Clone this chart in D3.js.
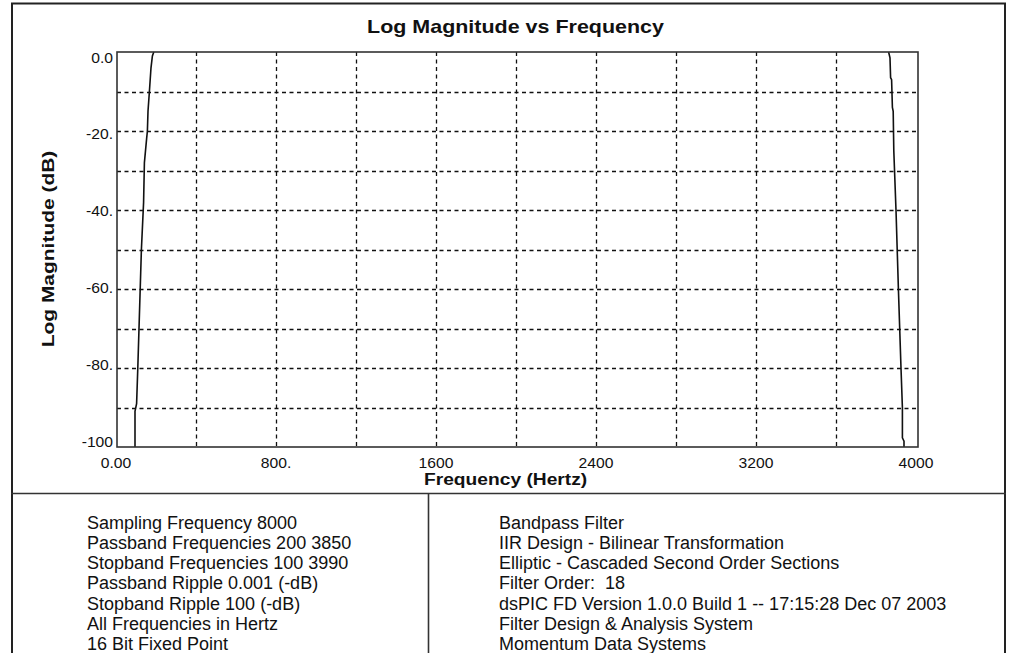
<!DOCTYPE html>
<html>
<head>
<meta charset="utf-8">
<script src="https://cdn.jsdelivr.net/npm/d3@7"></script>
<style>
  html, body { margin: 0; padding: 0; background: #fff; }
  svg { display: block; font-family: "Liberation Sans", Arial, sans-serif; }
  text { white-space: pre; }
</style>
</head>
<body>
<svg id="chart" width="1016" height="653"></svg>
<script>
// ---- data ----
const titleText = "Log Magnitude vs Frequency";
const xLabelText = "Frequency (Hertz)";
const yLabelText = "Log Magnitude (dB)";
const xTicks = [0, 800, 1600, 2400, 3200, 4000];
const xTickLabels = ["0.00", "800.", "1600", "2400", "3200", "4000"];
const yTicks = [0, -20, -40, -60, -80, -100];
const yTickLabels = ["0.0", "-20.", "-40.", "-60.", "-80.", "-100"];
const xGrid = [400, 800, 1200, 1600, 2000, 2400, 2800, 3200, 3600];
const yGrid = [-10, -20, -30, -40, -50, -60, -70, -80, -90];
// lower transition edge (Hz, dB)
const lowFreq = [184, 177, 170, 162, 155, 152, 148, 137, 133, 122, 110, 104, 98, 90, 90];
const lowDb   = [0, -1, -4, -10, -15, -20, -22, -28, -38, -50, -70, -80, -89, -91, -100];
// upper transition edge (Hz, dB)
const highFreq = [3858, 3865, 3868, 3873, 3877, 3881, 3884, 3895, 3907, 3920, 3927, 3927, 3935, 3935];
const highDb   = [0, -1.5, -6.5, -7, -14, -15, -25, -40, -60, -80, -90, -97.7, -98.5, -100];
const infoLeft = [
  "Sampling Frequency 8000",
  "Passband Frequencies 200 3850",
  "Stopband Frequencies 100 3990",
  "Passband Ripple 0.001 (-dB)",
  "Stopband Ripple 100 (-dB)",
  "All Frequencies in Hertz",
  "16 Bit Fixed Point"
];
const infoRight = [
  "Bandpass Filter",
  "IIR Design - Bilinear Transformation",
  "Elliptic - Cascaded Second Order Sections",
  "Filter Order:  18",
  "dsPIC FD Version 1.0.0 Build 1 -- 17:15:28 Dec 07 2003",
  "Filter Design & Analysis System",
  "Momentum Data Systems"
];

// ---- layout ----
const svg = d3.select("#chart");
const plot = { left: 117, top: 52, right: 917, bottom: 447 };
const x = d3.scaleLinear().domain([0, 4000]).range([plot.left, plot.right]);
const y = d3.scaleLinear().domain([0, -100]).range([plot.top, plot.bottom]);
const yLabelPos = d3.scaleLinear().domain([0, -100]).range([57.5, 441.5]);

// outer frame
const frameColor = "#222";
svg.append("line").attr("x1", 12).attr("x2", 12).attr("y1", 3).attr("y2", 653)
  .attr("stroke", frameColor).attr("stroke-width", 2);
svg.append("line").attr("x1", 11).attr("x2", 1006).attr("y1", 3.5).attr("y2", 3.5)
  .attr("stroke", frameColor).attr("stroke-width", 2);
svg.append("line").attr("x1", 1005).attr("x2", 1005).attr("y1", 3).attr("y2", 653)
  .attr("stroke", frameColor).attr("stroke-width", 2);
svg.append("line").attr("x1", 11).attr("x2", 1006).attr("y1", 493.5).attr("y2", 493.5)
  .attr("stroke", "#333").attr("stroke-width", 1.6);
svg.append("line").attr("x1", 428.5).attr("x2", 428.5).attr("y1", 493).attr("y2", 653)
  .attr("stroke", "#333").attr("stroke-width", 1.6);

// gridlines
const grid = svg.append("g").attr("stroke", "#111").attr("stroke-width", 1.3)
  .attr("stroke-dasharray", "4,3.5");
grid.selectAll("line.gx").data(xGrid).join("line").attr("class", "gx")
  .attr("x1", d => Math.round(x(d)) - 0.5).attr("x2", d => Math.round(x(d)) - 0.5)
  .attr("y1", plot.top).attr("y2", plot.bottom);
grid.selectAll("line.gy").data(yGrid).join("line").attr("class", "gy")
  .attr("x1", plot.left).attr("x2", plot.right)
  .attr("y1", d => Math.round(y(d)) + 0.5).attr("y2", d => Math.round(y(d)) + 0.5);

// curves
svg.append("clipPath").attr("id", "clip").append("rect")
  .attr("x", plot.left).attr("y", plot.top - 1)
  .attr("width", plot.right - plot.left).attr("height", plot.bottom - plot.top + 1);
const line = d3.line().x(d => x(d[0])).y(d => y(d[1]));
const curves = svg.append("g").attr("clip-path", "url(#clip)");
curves.append("path").datum(lowFreq.map((f, i) => [f, lowDb[i]]))
  .attr("d", line).attr("fill", "none").attr("stroke", "#111").attr("stroke-width", 1.6);
curves.append("path").datum(highFreq.map((f, i) => [f, highDb[i]]))
  .attr("d", line).attr("fill", "none").attr("stroke", "#111").attr("stroke-width", 1.6);

// plot frame
svg.append("rect").attr("x", plot.left).attr("y", plot.top)
  .attr("width", plot.right - plot.left + 1).attr("height", plot.bottom - plot.top)
  .attr("fill", "none").attr("stroke", "#333").attr("stroke-width", 1.6);

// axes (tick labels)
const yAxis = d3.axisLeft(yLabelPos).tickValues(yTicks).tickSize(0).tickPadding(0)
  .tickFormat((d, i) => yTickLabels[i]);
const gy = svg.append("g").attr("transform", "translate(113,0)").call(yAxis);
gy.select(".domain").remove();
gy.selectAll("text").attr("font-size", 14.5).attr("fill", "#111")
  .attr("transform", "scale(1.08,1)")
  .attr("font-family", "'Liberation Sans', Arial, sans-serif");

const xAxis = d3.axisBottom(x).tickValues(xTicks).tickSize(0).tickPadding(0)
  .tickFormat((d, i) => xTickLabels[i]);
const gx = svg.append("g").attr("transform", "translate(-1.5,457.5)").call(xAxis);
gx.select(".domain").remove();
gx.selectAll("text").attr("font-size", 14.5).attr("fill", "#111")
  .attr("transform", "scale(1.08,1)")
  .attr("font-family", "'Liberation Sans', Arial, sans-serif");

// titles
svg.append("text").attr("transform", "translate(515.5,33) scale(1.13,1)")
  .attr("text-anchor", "middle").attr("font-size", 19).attr("font-weight", "bold")
  .attr("fill", "#111").text(titleText);
svg.append("text").attr("transform", "translate(424,485) scale(1.13,1)")
  .attr("text-anchor", "start").attr("font-size", 17).attr("font-weight", "bold")
  .attr("fill", "#111").text(xLabelText);
svg.append("text").attr("transform", "translate(54,249) rotate(-90) scale(1.27,1)")
  .attr("text-anchor", "middle").attr("font-size", 16.5).attr("font-weight", "bold")
  .attr("fill", "#111").text(yLabelText);

// info panel
const infoY = d3.scaleLinear().domain([0, 6]).range([528.5, 650.3]);
svg.append("g").selectAll("text").data(infoLeft).join("text")
  .attr("x", 87).attr("y", (d, i) => infoY(i))
  .attr("font-size", 18).attr("fill", "#111").text(d => d);
svg.append("g").selectAll("text").data(infoRight).join("text")
  .attr("x", 499).attr("y", (d, i) => infoY(i))
  .attr("font-size", 18).attr("fill", "#111").text(d => d);
</script>
</body>
</html>
